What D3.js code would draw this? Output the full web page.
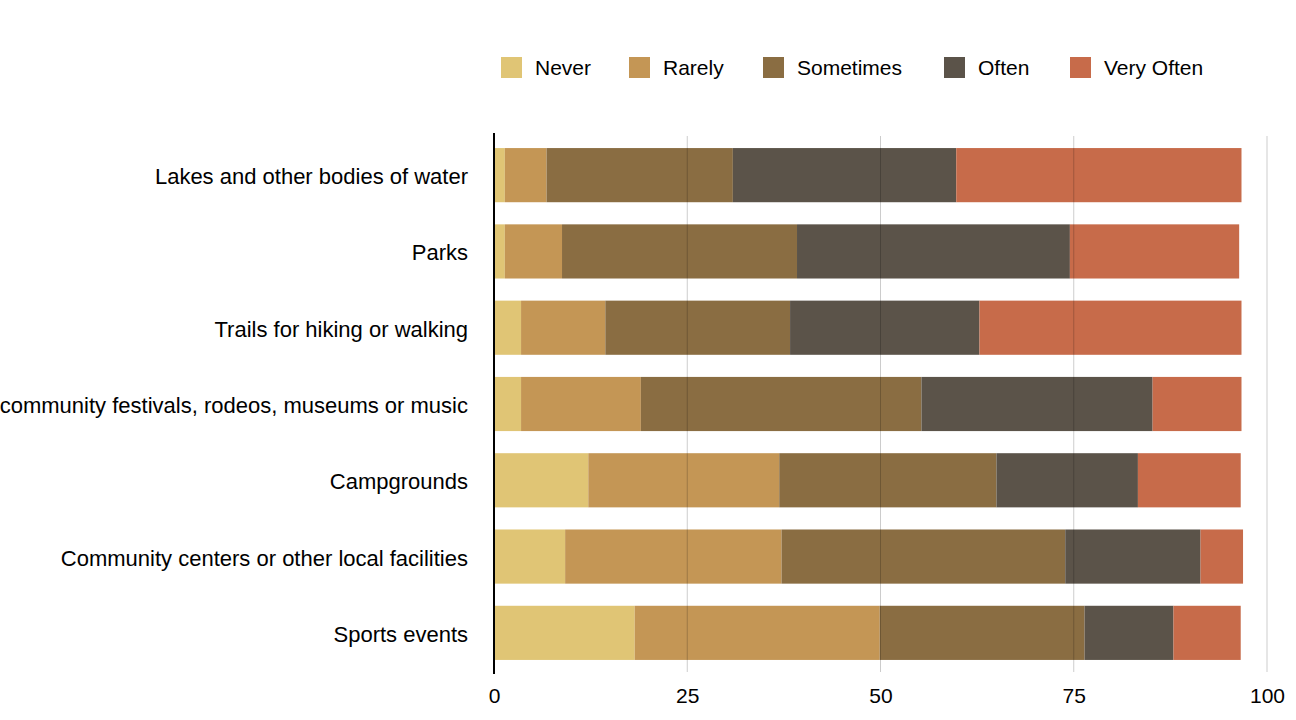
<!DOCTYPE html>
<html>
<head>
<meta charset="utf-8">
<script src="https://cdn.jsdelivr.net/npm/d3@7"></script>
<style>
  html, body { margin: 0; padding: 0; background: #fff; }
  svg { display: block; font-family: "Liberation Sans", Arial, Helvetica, sans-serif; }
</style>
</head>
<body>
<svg id="chart" width="1296" height="720"></svg>
<script>
const categories = [
  "Lakes and other bodies of water",
  "Parks",
  "Trails for hiking or walking",
  "community festivals, rodeos, museums or music",
  "Campgrounds",
  "Community centers or other local facilities",
  "Sports events"
];
const seriesNames = ["Never", "Rarely", "Sometimes", "Often", "Very Often"];
const never     = [1.4, 1.4, 3.5, 3.5, 12.2, 9.2, 18.2];
const rarely    = [5.4, 7.4, 10.9, 15.5, 24.7, 28.0, 31.7];
const sometimes = [24.1, 30.4, 23.9, 36.3, 28.1, 36.7, 26.5];
const often     = [28.9, 35.3, 24.5, 29.9, 18.3, 17.5, 11.5];
const veryOften = [36.9, 21.9, 33.9, 11.5, 13.3, 5.5, 8.7];
const colors = ["#E0C575", "#C49655", "#8A6D42", "#5B5349", "#C76B4A"];
const xTicks = [0, 25, 50, 75, 100];

const seriesValues = [never, rarely, sometimes, often, veryOften];
const rows = categories.map((c, i) => {
  const r = { category: c };
  seriesNames.forEach((s, k) => r[s] = seriesValues[k][i]);
  return r;
});

const svg = d3.select("#chart");
const x = d3.scaleLinear().domain([0, 100]).range([494, 1267]);
const y = d3.scaleBand().domain(categories).range([137, 671]).paddingInner(0.29).paddingOuter(0.145);
const color = d3.scaleOrdinal().domain(seriesNames).range(colors);

const stacked = d3.stack().keys(seriesNames)(rows);

// bars
svg.append("g").selectAll("g").data(stacked).join("g")
  .attr("fill", d => color(d.key))
  .selectAll("rect").data(d => d).join("rect")
  .attr("x", d => x(d[0]))
  .attr("y", d => y(d.data.category))
  .attr("width", d => x(d[1]) - x(d[0]))
  .attr("height", y.bandwidth());

// gridlines (drawn over bars, translucent)
svg.append("g").selectAll("line").data(xTicks.filter(t => t > 0)).join("line")
  .attr("x1", d => x(d)).attr("x2", d => x(d))
  .attr("y1", 136).attr("y2", 672)
  .attr("stroke", "rgba(0,0,0,0.2)")
  .attr("stroke-width", 1);

// y axis line
svg.append("line")
  .attr("x1", x(0)).attr("x2", x(0))
  .attr("y1", 133).attr("y2", 674)
  .attr("stroke", "#000").attr("stroke-width", 2);

// x tick labels
const xAxis = d3.axisBottom(x).tickValues(xTicks).tickSize(0).tickPadding(0);
const gx = svg.append("g").attr("transform", "translate(0,688)").call(xAxis);
gx.select(".domain").remove();
gx.selectAll("text").attr("font-size", 21).attr("fill", "#000").attr("dy", "0.71em")
  .attr("font-family", "'Liberation Sans', Arial, sans-serif");

// category labels
const yAxis = d3.axisLeft(y).tickSize(0).tickPadding(0);
const gy = svg.append("g").attr("transform", "translate(468,2)").call(yAxis);
gy.select(".domain").remove();
gy.selectAll("text").attr("font-size", 22).attr("fill", "#000")
  .attr("font-family", "'Liberation Sans', Arial, sans-serif");

// legend
const legendX = [501, 629, 763, 944, 1070];
const lg = svg.append("g").selectAll("g").data(seriesNames).join("g")
  .attr("transform", (d, i) => `translate(${legendX[i]},57)`);
lg.append("rect").attr("width", 21).attr("height", 21).attr("fill", d => color(d));
lg.append("text").attr("x", 34).attr("y", 11).attr("dy", "0.35em")
  .attr("font-size", 21).attr("fill", "#000").text(d => d);
</script>
</body>
</html>
